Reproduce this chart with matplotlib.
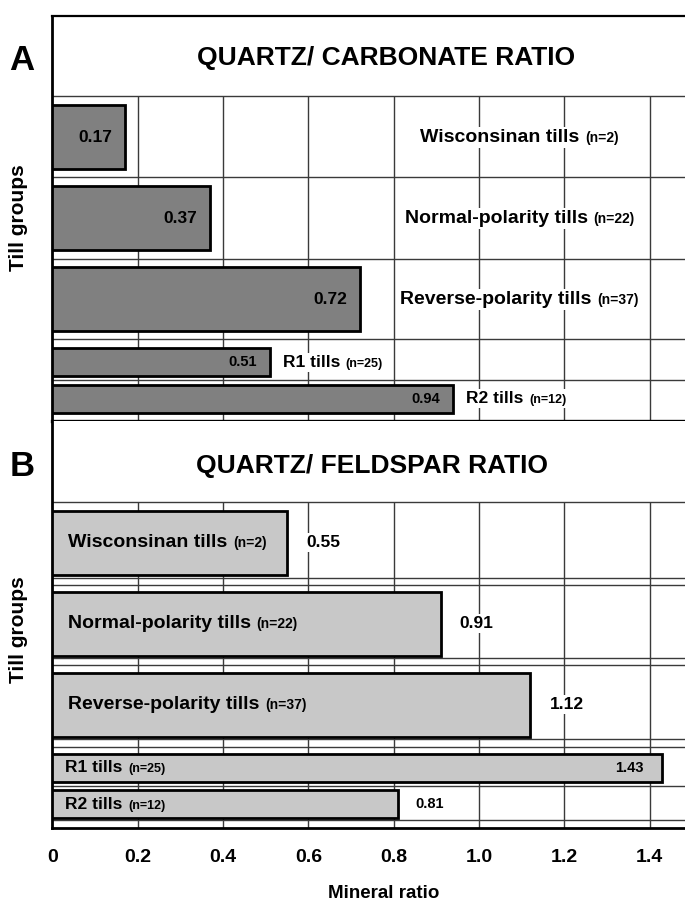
import matplotlib
matplotlib.use("Agg")
import matplotlib.pyplot as plt
from matplotlib.offsetbox import TextArea, HPacker, AnnotationBbox

plt.rcParams["font.family"] = ["Liberation Sans", "DejaVu Sans"]
plt.rcParams["font.weight"] = "bold"

# ---------------- data ----------------
categories = ["Wisconsinan tills", "Normal-polarity tills", "Reverse-polarity tills",
              "R1 tills", "R2 tills"]
counts = ["(n=2)", "(n=22)", "(n=37)", "(n=25)", "(n=12)"]
qc_ratio = [0.17, 0.37, 0.72, 0.51, 0.94]   # quartz / carbonate
qf_ratio = [0.55, 0.91, 1.12, 1.43, 0.81]   # quartz / feldspar
xticks = [0, 0.2, 0.4, 0.6, 0.8, 1.0, 1.2, 1.4]
xtick_labels = ["0", "0.2", "0.4", "0.6", "0.8", "1.0", "1.2", "1.4"]
titles = ["QUARTZ/ CARBONATE RATIO", "QUARTZ/ FELDSPAR RATIO"]
panel_letters = ["A", "B"]

# ---------------- layout ----------------
W, H = 685, 907
X0 = 52.4            # pixel of x=0
PX_PER_UNIT = 426.6
XMAX = (W - X0) / PX_PER_UNIT
centers = [121.5, 202.5, 283.5, 346.5, 383.0]
heights = [64, 64, 64, 28, 28]
TITLE_LINE = 80.6
GRID_COL = "#3a3a3a"

fig = plt.figure(figsize=(W / 100, H / 100), dpi=100)


def rect(top, bot):
    return [X0 / W, 1 - bot / H, 1 - X0 / W, (bot - top) / H]


axA = fig.add_axes(rect(15.7, 421.2))
axB = fig.add_axes(rect(421.2, 828.3))


def label_box(ax, x, y, main, sub, main_size, sub_size, align, frame):
    ta1 = TextArea(main, textprops=dict(fontsize=main_size, fontweight="bold", color="black"))
    ta2 = TextArea(sub, textprops=dict(fontsize=sub_size, fontweight="bold", color="black"))
    pk = HPacker(children=[ta1, ta2], align="baseline", pad=0, sep=4)
    ab = AnnotationBbox(pk, (x, y), xycoords="data", box_alignment=(align, 0.5),
                        frameon=frame, pad=0.15,
                        bboxprops=dict(facecolor="white", edgecolor="none"))
    ab.set_zorder(6)
    ax.add_artist(ab)


def setup(ax, bottom, hlines, title, title_x, title_y):
    ax.set_xlim(0, XMAX)
    ax.set_ylim(bottom, 0)
    ax.set_yticks([])
    ax.spines["right"].set_visible(False)
    ax.spines["left"].set_linewidth(2.0)
    ax.vlines(xticks[1:], TITLE_LINE, bottom, color=GRID_COL, lw=1.0, zorder=1)
    ax.hlines(hlines, 0, XMAX, color=GRID_COL, lw=1.0, zorder=1)
    ax.text(title_x, title_y, title, ha="center", va="center", fontsize=19,
            fontweight="bold", zorder=5)


# ---------------- panel A ----------------
setup(axA, 405.5, [TITLE_LINE, 161.0, 243.0, 323.5, 364.0], titles[0], 0.783, 42.3)
axA.spines["top"].set_linewidth(1.6)
axA.spines["bottom"].set_linewidth(2.4)
axA.set_xticks([])
axA.barh(centers, qc_ratio, height=heights, color="#808080", edgecolor="black",
         linewidth=2.0, zorder=3)
for i, v in enumerate(qc_ratio):
    small = i >= 3
    axA.text(v - 0.03, centers[i], f"{v:.2f}", ha="right", va="center",
             fontsize=10.5 if small else 12.5, fontweight="bold", zorder=5)
    if small:
        label_box(axA, v + 0.03, centers[i], categories[i], counts[i], 12.5, 9, 0.0, True)
    else:
        label_box(axA, 1.095, centers[i], categories[i], counts[i], 14, 10, 0.5, True)

# ---------------- panel B ----------------
setup(axB, 407.1, [TITLE_LINE, 156.5, 163.8, 236.8, 243.8, 317.8, 325.5, 364.5, 398.8],
      titles[1], 0.749, 44.8)
axB.spines["top"].set_visible(False)
axB.spines["bottom"].set_linewidth(2.0)
axB.barh(centers, qf_ratio, height=heights, color="#c8c8c8", edgecolor="black",
         linewidth=2.0, zorder=3)
for i, v in enumerate(qf_ratio):
    small = i >= 3
    if v > 1.3:
        axB.text(v - 0.045, centers[i], f"{v:.2f}", ha="right", va="center",
                 fontsize=10.5, fontweight="bold", zorder=5)
    else:
        axB.text(v + (0.04 if small else 0.045), centers[i], f"{v:.2f}", ha="left",
                 va="center", fontsize=10.5 if small else 12.5, fontweight="bold", zorder=5,
                 bbox=dict(facecolor="white", edgecolor="none", pad=1.5))
    if small:
        label_box(axB, 0.03, centers[i], categories[i], counts[i], 12.5, 9, 0.0, False)
    else:
        label_box(axB, 0.037, centers[i], categories[i], counts[i], 14, 10, 0.0, False)

axB.set_xticks(xticks, xtick_labels)
axB.tick_params(axis="x", length=0, pad=15, labelsize=14)
for t in axB.get_xticklabels():
    t.set_fontweight("bold")
axB.set_xlabel("Mineral ratio", fontsize=13.5, fontweight="bold")
axB.xaxis.set_label_coords((384 - X0) / (W - X0), -(893 - 828.3) / 407.1)
axB.xaxis.label.set_va("center")

for ax, yc in [(axA, 0.501), (axB, 0.487)]:
    ax.set_ylabel("Till groups", fontsize=15, fontweight="bold")
    ax.yaxis.set_label_coords((18 - X0) / (W - X0), yc)
    ax.yaxis.label.set_va("center")

for letter, ypx in zip(panel_letters, [60, 466]):
    fig.text(22 / W, 1 - ypx / H, letter, ha="center", va="center", fontsize=25,
             fontweight="bold")

fig.savefig("out.png", dpi=100)
